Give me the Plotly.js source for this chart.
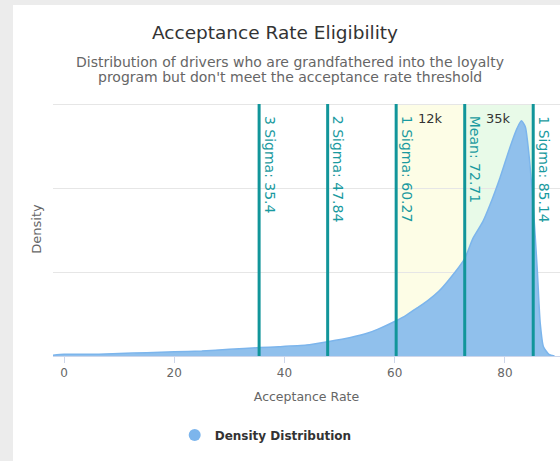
<!DOCTYPE html>
<html>
<head>
<meta charset="utf-8">
<script src="https://cdn.plot.ly/plotly-3.0.1.min.js"></script>
<style>
  html, body { margin: 0; padding: 0; background: #ececec; width: 560px; height: 461px; overflow: hidden; }
  #chart { position: absolute; left: 13px; top: 5px; width: 547px; height: 456px; background: #ffffff; }
</style>
</head>
<body>
<div id="chart"></div>
<script>
// Density curve (acceptance rate vs. density)
const rateX = [-2, 0, 5, 10, 15, 20, 25, 30, 35.4, 39, 44, 47.84, 52, 55, 57, 60.27, 62, 64, 66, 68, 70, 72.71, 74.2, 76, 77.3, 79.1, 80.9, 82.2, 83.0, 83.7, 84.3, 85.14, 85.9, 86.4, 87, 88, 89];
const densityY = [0.0001, 0.0002, 0.0002, 0.0003, 0.0004, 0.0005, 0.0006, 0.0008, 0.0010, 0.0011, 0.0013, 0.0017, 0.0022, 0.0027, 0.0032, 0.0042, 0.0048, 0.0057, 0.0066, 0.0077, 0.0092, 0.0116, 0.0140, 0.0160, 0.0180, 0.0212, 0.0248, 0.0271, 0.0280, 0.0273, 0.0244, 0.0179, 0.0100, 0.0040, 0.0011, 0.0002, 0];

// Reference lines
const lineValues = [35.4, 47.84, 60.27, 72.71, 85.14];
const lineLabels = ["3 Sigma: 35.4", "2 Sigma: 47.84", "1 Sigma: 60.27", "Mean: 72.71", "1 Sigma: 85.14"];

// Shaded bands
const bandFrom = [60.27, 72.71];
const bandTo = [72.71, 85.14];
const bandLabels = ["12k", "35k"];
const bandColors = ["rgb(253,253,230)", "rgb(232,250,232)"];

const xTicks = [0, 20, 40, 60, 80];
const yGrid = [0, 0.01, 0.02, 0.03];

const subtitleLines = ["Distribution of drivers who are grandfathered into the loyalty", "program but don't meet the acceptance rate threshold"];

const FONT = "DejaVu Sans, Verdana, sans-serif";
const TEAL = "#11959a";
const YTOP = yGrid[yGrid.length - 1];

const shapes = [];
const annotations = [];

bandFrom.forEach((b, i) => {
  shapes.push({
    type: "rect", xref: "x", yref: "y", x0: b, x1: bandTo[i], y0: 0, y1: YTOP,
    fillcolor: bandColors[i], line: { width: 0 }, layer: "below"
  });
  annotations.push({
    x: (b + bandTo[i]) / 2, xref: "x", y: 0.937, yref: "paper",
    text: bandLabels[i], showarrow: false, xanchor: "center", yanchor: "middle",
    font: { family: FONT, size: 13, color: "#333333" }
  });
});

lineValues.forEach((v, i) => {
  shapes.push({
    type: "line", xref: "x", yref: "y", x0: v, x1: v, y0: 0, y1: YTOP,
    line: { color: TEAL, width: 3 }, layer: "above"
  });
  annotations.push({
    x: v, xref: "x", y: 1, yref: "paper", text: lineLabels[i], showarrow: false,
    textangle: 90, xanchor: "left", yanchor: "top", xshift: 1, yshift: -12,
    font: { family: FONT, size: 14, color: "#1a9aa0" }
  });
});

const subY = [1 + (97 - 57) / 254, 1 + (97 - 72) / 254];
subtitleLines.forEach((t, i) => {
  annotations.push({
    x: 0.4675, xref: "paper", y: subY[i], yref: "paper",
    text: t, showarrow: false, xanchor: "center", yanchor: "middle",
    font: { family: FONT, size: 14, color: "#666666" }
  });
});

const traces = [
  {
    x: rateX, y: densityY, type: "scatter", mode: "lines", fill: "tozeroy",
    line: { color: "#7cb5ec", width: 1.5, shape: "spline", smoothing: 0.6 },
    fillcolor: "rgb(144,192,236)", showlegend: false, hoverinfo: "x+y"
  },
  {
    x: [null], y: [null], type: "scatter", mode: "markers",
    marker: { color: "#7cb5ec", size: 12, symbol: "circle" },
    name: "<b>Density Distribution</b>", showlegend: true
  }
];

const layout = {
  width: 547, height: 456,
  margin: { l: 40, r: 0, t: 97, b: 105 },
  paper_bgcolor: "#ffffff", plot_bgcolor: "#ffffff",
  font: { family: FONT },
  title: {
    text: "Acceptance Rate Eligibility",
    x: 262 / 547, xref: "container", xanchor: "center",
    y: 1 - 28 / 456, yref: "container", yanchor: "middle",
    font: { family: FONT, size: 18.5, color: "#333333" }
  },
  xaxis: {
    range: [-2, 90], tickvals: xTicks, ticktext: xTicks.map(String),
    showgrid: false, zeroline: false, showline: true, linecolor: "#ccd6eb", linewidth: 1,
    ticks: "outside", ticklen: 6, tickcolor: "#ccd6eb",
    tickfont: { family: FONT, size: 12, color: "#666666" },
    title: { text: "Acceptance Rate", standoff: 12, font: { family: FONT, size: 12.5, color: "#666666" } },
    fixedrange: true
  },
  yaxis: {
    range: [0, 0.030238], tickvals: yGrid, showticklabels: false, showgrid: true, gridcolor: "#e6e6e6",
    zeroline: false, showline: false,
    title: { text: "Density", standoff: 7, font: { family: FONT, size: 13, color: "#666666" } },
    fixedrange: true
  },
  shapes: shapes,
  annotations: annotations,
  showlegend: true,
  legend: {
    orientation: "h", x: 0.24, xanchor: "left", y: 1 - (430 - 97) / 254, yanchor: "middle",
    font: { family: FONT, size: 12, color: "#333333" }, bgcolor: "rgba(0,0,0,0)"
  }
};

Plotly.newPlot("chart", traces, layout, { displayModeBar: false, staticPlot: true });
</script>
</body>
</html>
